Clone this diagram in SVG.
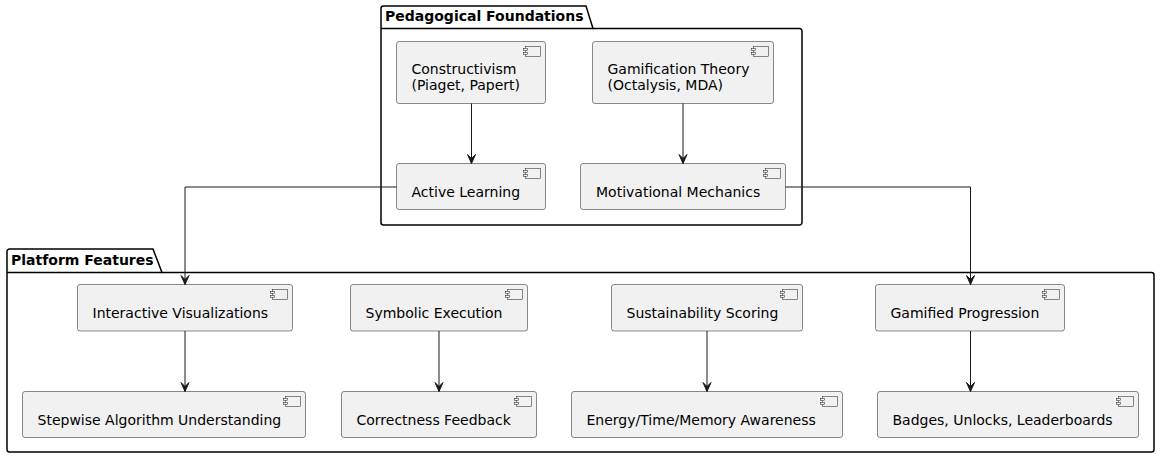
<svg xmlns="http://www.w3.org/2000/svg" width="1160" height="459" viewBox="0 0 1160 459">
<style>
.bg{fill:#FFFFFF}
.pkg{fill:none;stroke:#000000;stroke-width:1.5}
.box{fill:#F1F1F1;stroke:#181818;stroke-width:0.5}
.ico{fill:#F1F1F1;stroke:#181818;stroke-width:0.5}
.lbl{font-family:"DejaVu Sans","Liberation Sans",sans-serif;font-size:14px;fill:#000000}
.ttl{font-family:"DejaVu Sans","Liberation Sans",sans-serif;font-size:14px;font-weight:bold;fill:#000000}
.edge{fill:none;stroke:#181818;stroke-width:1}
</style>
<defs>
<marker id="arr" viewBox="-10 -5 11 10" refX="0" refY="0" markerWidth="11" markerHeight="10" markerUnits="userSpaceOnUse" orient="auto">
<path d="M-9,-4 L0,0 L-9,4 L-5,0 Z" fill="#181818" stroke="#181818" stroke-width="1"/>
</marker>
<g id="icon">
<rect class="ico" x="-20" y="5" width="15" height="10"/>
<rect class="ico" x="-22" y="7" width="4" height="2"/>
<rect class="ico" x="-22" y="11" width="4" height="2"/>
</g>
</defs>
<rect class="bg" x="0" y="0" width="1160" height="459"/>

<g id="pkg_pedagogical">
<path class="pkg" d="M383.5,6 L586,6 L593,28.5 L799.5,28.5 A2.5,2.5 0 0 1 802,31 L802,222.5 A2.5,2.5 0 0 1 799.5,225 L383.5,225 A2.5,2.5 0 0 1 381,222.5 L381,8.5 A2.5,2.5 0 0 1 383.5,6 Z"/>
<line class="pkg" x1="381" y1="28.5" x2="593" y2="28.5"/>
<text class="ttl" x="385" y="21">Pedagogical Foundations</text>
</g>

<g id="pkg_platform">
<path class="pkg" d="M9.5,249 L153,249 L162,272.5 L1151.5,272.5 A2.5,2.5 0 0 1 1154,275 L1154,449.5 A2.5,2.5 0 0 1 1151.5,452 L9.5,452 A2.5,2.5 0 0 1 7,449.5 L7,251.5 A2.5,2.5 0 0 1 9.5,249 Z"/>
<line class="pkg" x1="7" y1="272.5" x2="162" y2="272.5"/>
<text class="ttl" x="11" y="265">Platform Features</text>
</g>

<g id="constructivism">
<rect class="box" x="396.5" y="41.5" width="149" height="62" rx="2.5"/>
<use href="#icon" x="545.5" y="41.5"/>
<text class="lbl" x="411.5" y="73.5">Constructivism</text>
<text class="lbl" x="411.5" y="90">(Piaget, Papert)</text>
</g>

<g id="gamification_theory">
<rect class="box" x="592.5" y="41.5" width="181" height="62" rx="2.5"/>
<use href="#icon" x="773.5" y="41.5"/>
<text class="lbl" x="607.5" y="73.5">Gamification Theory</text>
<text class="lbl" x="607.5" y="90">(Octalysis, MDA)</text>
</g>

<g id="active_learning">
<rect class="box" x="396.5" y="163.5" width="149" height="46" rx="2.5"/>
<use href="#icon" x="545.5" y="163.5"/>
<text class="lbl" x="411.5" y="196.8">Active Learning</text>
</g>

<g id="motivational_mechanics">
<rect class="box" x="580.5" y="163.5" width="205" height="46" rx="2.5"/>
<use href="#icon" x="785.5" y="163.5"/>
<text class="lbl" x="596" y="196.8">Motivational Mechanics</text>
</g>

<g id="interactive_visualizations">
<rect class="box" x="77.5" y="284.5" width="215" height="46.5" rx="2.5"/>
<use href="#icon" x="292.5" y="284.5"/>
<text class="lbl" x="92.5" y="317.8">Interactive Visualizations</text>
</g>

<g id="symbolic_execution">
<rect class="box" x="350.5" y="284.5" width="177" height="46.5" rx="2.5"/>
<use href="#icon" x="527.5" y="284.5"/>
<text class="lbl" x="365.5" y="317.8">Symbolic Execution</text>
</g>

<g id="sustainability_scoring">
<rect class="box" x="611.5" y="284.5" width="191" height="46.5" rx="2.5"/>
<use href="#icon" x="802.5" y="284.5"/>
<text class="lbl" x="626.5" y="317.8">Sustainability Scoring</text>
</g>

<g id="gamified_progression">
<rect class="box" x="875.5" y="284.5" width="189" height="46.5" rx="2.5"/>
<use href="#icon" x="1064.5" y="284.5"/>
<text class="lbl" x="890.5" y="317.8">Gamified Progression</text>
</g>

<g id="stepwise_understanding">
<rect class="box" x="22.5" y="391.5" width="283" height="46" rx="2.5"/>
<use href="#icon" x="305.5" y="391.5"/>
<text class="lbl" x="37.5" y="424.5">Stepwise Algorithm Understanding</text>
</g>

<g id="correctness_feedback">
<rect class="box" x="341.5" y="391.5" width="195" height="46" rx="2.5"/>
<use href="#icon" x="536.5" y="391.5"/>
<text class="lbl" x="356.5" y="424.5">Correctness Feedback</text>
</g>

<g id="energy_awareness">
<rect class="box" x="571.5" y="391.5" width="271" height="46" rx="2.5"/>
<use href="#icon" x="842.5" y="391.5"/>
<text class="lbl" x="586.5" y="424.5">Energy/Time/Memory Awareness</text>
</g>

<g id="badges">
<rect class="box" x="877.5" y="391.5" width="261" height="46" rx="2.5"/>
<use href="#icon" x="1138.5" y="391.5"/>
<text class="lbl" x="892.5" y="424.5">Badges, Unlocks, Leaderboards</text>
</g>

<g id="connectors">
<path class="edge" marker-end="url(#arr)" d="M471.5,103.5 L471.5,163.5"/>
<path class="edge" marker-end="url(#arr)" d="M683,103.5 L683,163.5"/>
<path class="edge" marker-end="url(#arr)" d="M396.5,187 L185,187 L185,284.5"/>
<path class="edge" marker-end="url(#arr)" d="M785.5,187 L970.5,187 L970.5,284.5"/>
<path class="edge" marker-end="url(#arr)" d="M185,331 L185,391.5"/>
<path class="edge" marker-end="url(#arr)" d="M439,331 L439,391.5"/>
<path class="edge" marker-end="url(#arr)" d="M707,331 L707,391.5"/>
<path class="edge" marker-end="url(#arr)" d="M970.5,331 L970.5,391.5"/>
</g>
</svg>
